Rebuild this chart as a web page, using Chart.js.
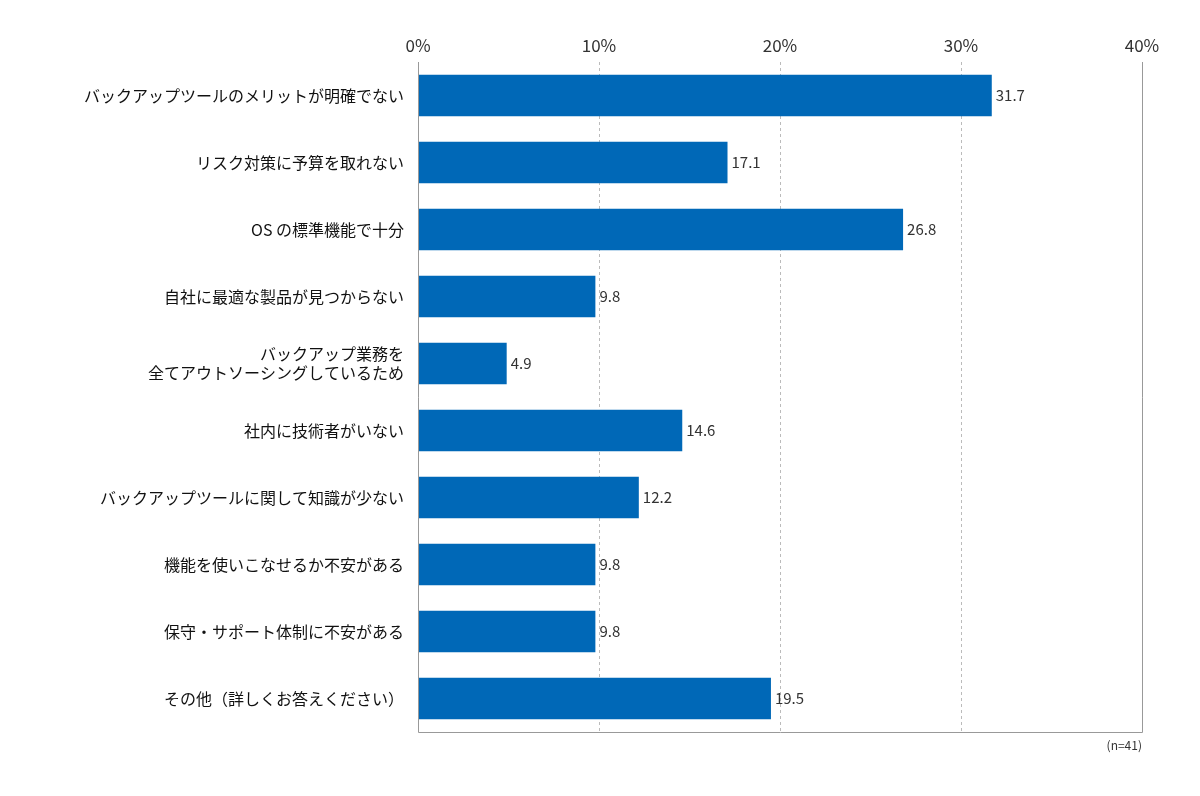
<!DOCTYPE html>
<html><head><meta charset="utf-8">
<script src="https://cdn.jsdelivr.net/npm/chart.js@4"></script>
<style>html,body{margin:0;padding:0;background:#fff}#w{width:1200px;height:796px}</style>
</head><body><div id="w"><canvas id="c"></canvas></div>
<script>
const categories = ["バックアップツールのメリットが明確でない","リスク対策に予算を取れない","OS の標準機能で十分","自社に最適な製品が見つからない",["バックアップ業務を","全てアウトソーシングしているため"],"社内に技術者がいない","バックアップツールに関して知識が少ない","機能を使いこなせるか不安がある","保守・サポート体制に不安がある","その他（詳しくお答えください）"];
const values = [31.7,17.1,26.8,9.8,4.9,14.6,12.2,9.8,9.8,19.5];
const tickLabels = ["0%","10%","20%","30%","40%"];
const FONT = "'Noto Sans CJK JP','Noto Sans',sans-serif";
const boxPlugin = {id:'box', afterDraw(ch){const a=ch.chartArea,c=ch.ctx;c.save();c.strokeStyle='#999';c.lineWidth=1;c.beginPath();
 c.moveTo(a.left+0.5,a.top);c.lineTo(a.left+0.5,a.bottom+0.5);c.lineTo(a.right+0.5,a.bottom+0.5);c.lineTo(a.right+0.5,a.top);c.stroke();
 c.fillStyle='#333';c.font='15px '+FONT;c.textBaseline='middle';
 const m=ch.getDatasetMeta(0);m.data.forEach((b,i)=>{c.fillText(values[i].toFixed(1),b.x+4,b.y);});
 c.font='12px '+FONT;c.textAlign='right';c.textBaseline='top';c.fillText('(n=41)',a.right,a.bottom+7);c.restore();}};
new Chart(document.getElementById('c'),{type:'bar',
 data:{labels:categories,datasets:[{data:values,backgroundColor:'#0068b7',categoryPercentage:0.62,barPercentage:1}]},
 plugins:[boxPlugin],
 options:{indexAxis:'y',responsive:true,maintainAspectRatio:false,animation:false,
  layout:{padding:{top:0,right:58,bottom:64,left:0}},
  plugins:{legend:{display:false},tooltip:{enabled:false}},
  scales:{
   x:{position:'top',min:0,max:40,afterFit(s){s.height=62;},
      ticks:{stepSize:10,color:'#333',font:{size:17,family:FONT},padding:6,callback:(v,i)=>tickLabels[i]},
      grid:{color:'#bbb',drawTicks:false,tickLength:0},border:{display:false,dash:[3,3]}},
   y:{afterFit(s){s.width=418;},
      ticks:{color:'#111',font:{size:16,family:FONT},padding:6},
      grid:{display:false},border:{display:false}}
  }}});
Chart.defaults.font.family=FONT;
</script></body></html>
